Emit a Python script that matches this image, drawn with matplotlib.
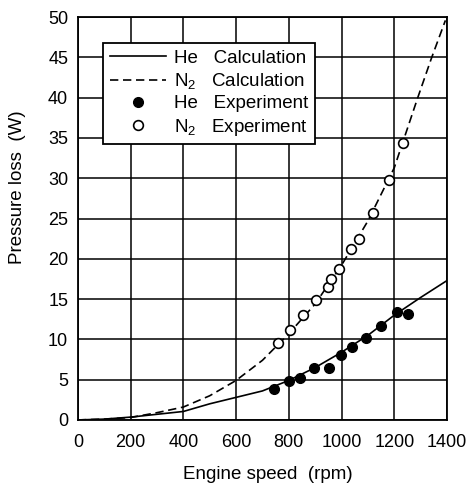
import numpy as np
import matplotlib
matplotlib.use("Agg")
import matplotlib.pyplot as plt
from matplotlib.lines import Line2D

plt.rcParams['font.family'] = ['Liberation Sans', 'DejaVu Sans']
plt.rcParams['mathtext.fontset'] = 'custom'
plt.rcParams['mathtext.rm'] = 'Liberation Sans'
plt.rcParams['mathtext.it'] = 'Liberation Sans'

# calculated curves
calc_rpm_he = [0, 100, 200, 300, 400, 500, 600, 700, 800, 900, 1000, 1100, 1200, 1300, 1400]
calc_loss_he = [0, 0.1, 0.35, 0.7, 1.05, 2.0, 2.8, 3.6, 4.9, 6.5, 8.4, 10.5, 13.0, 15.2, 17.3]

calc_rpm_n2 = [0, 100, 200, 300, 400, 500, 600, 700, 800, 900, 1000, 1100, 1200, 1288, 1341, 1394]
calc_loss_n2 = [0, 0.1, 0.3, 0.9, 1.6, 3.0, 4.9, 7.4, 10.7, 14.4, 19.2, 24.7, 31.3, 39.9, 44.9, 49.6]

# experiments
exp_rpm_he = [744, 800, 842, 894, 953, 998, 1039, 1093, 1148, 1210, 1254]
exp_loss_he = [3.9, 4.8, 5.2, 6.4, 6.5, 8.0, 9.1, 10.2, 11.6, 13.4, 13.1]

exp_rpm_n2 = [760, 805, 855, 903, 947, 961, 991, 1037, 1068, 1119, 1179, 1234]
exp_loss_n2 = [9.5, 11.2, 13.0, 14.9, 16.5, 17.5, 18.7, 21.2, 22.5, 25.7, 29.8, 34.4]

xticks = [0, 200, 400, 600, 800, 1000, 1200, 1400]
yticks = [0, 5, 10, 15, 20, 25, 30, 35, 40, 45, 50]

DASH = (0, (5, 2.8))

fig = plt.figure(figsize=(4.72, 4.90), dpi=100)
ax = fig.add_axes([0.165, 0.143, 0.782, 0.822])

ax.plot(calc_rpm_he, calc_loss_he, color='black', lw=1.2)
ax.plot(calc_rpm_n2, calc_loss_n2, color='black', lw=1.2, ls=DASH)
ax.plot(exp_rpm_he, exp_loss_he, ls='none', marker='o', ms=7, mfc='black', mec='black')
ax.plot(exp_rpm_n2, exp_loss_n2, ls='none', marker='o', ms=7, mfc='white', mec='black', mew=1.2)

ax.set_xlim(0, 1400)
ax.set_ylim(0, 50)
ax.set_xticks(xticks)
ax.set_yticks(yticks)
ax.tick_params(length=0, labelsize=13)
ax.tick_params(axis='x', pad=10)
ax.tick_params(axis='y', pad=7)
ax.grid(True, color='black', lw=1.1)
ax.set_axisbelow(True)
for s in ax.spines.values():
    s.set_linewidth(1.3)

ax.set_xlabel('Engine speed  (rpm)', fontsize=13.5)
ax.set_ylabel('Pressure loss  (W)', fontsize=13.5)
ax.xaxis.set_label_coords(0.515, -0.115)
ax.yaxis.set_label_coords(-0.14, 0.577)

handles = [
    Line2D([], [], color='black', lw=1.2),
    Line2D([], [], color='black', lw=1.2, ls=DASH),
    Line2D([], [], ls='none', marker='o', ms=7, mfc='black', mec='black'),
    Line2D([], [], ls='none', marker='o', ms=7, mfc='white', mec='black', mew=1.2),
]
labels = ['He   Calculation', r'N$_2$   Calculation', 'He   Experiment', r'N$_2$   Experiment']
leg = ax.legend(handles, labels, loc='upper left', bbox_to_anchor=(0.068, 0.935),
                fontsize=13.5, handlelength=3.0, labelspacing=0.22, borderpad=0.35,
                handletextpad=0.45, borderaxespad=0, fancybox=False, framealpha=1,
                edgecolor='black')
leg.get_frame().set_linewidth(1.3)

fig.savefig('out.png', dpi=100)
